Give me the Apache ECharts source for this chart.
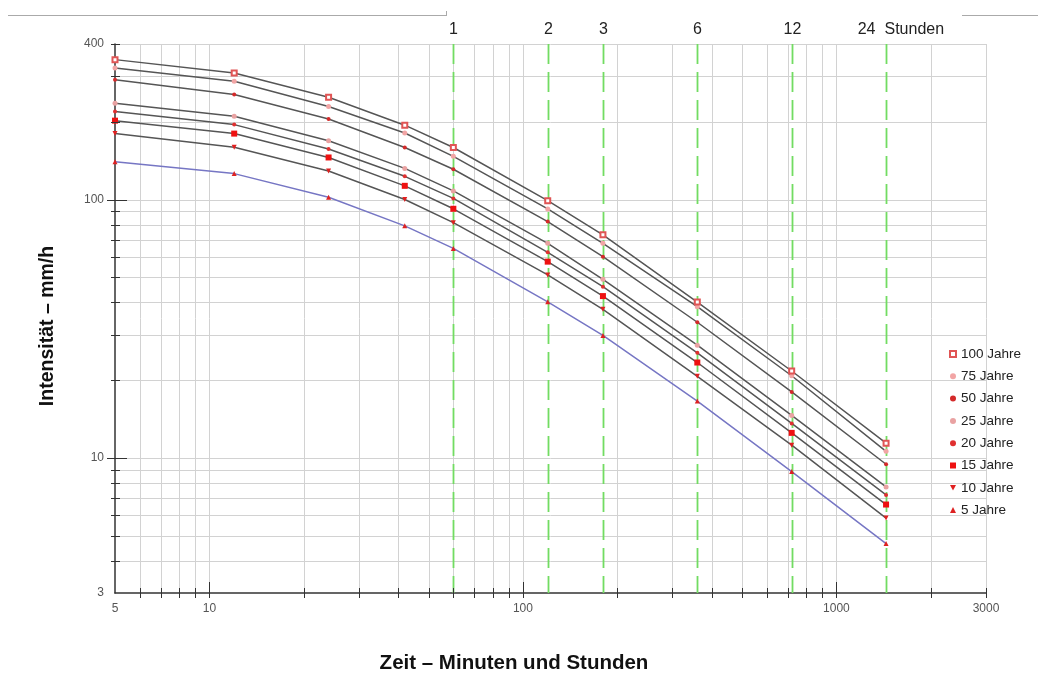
<!DOCTYPE html>
<html>
<head>
<meta charset="utf-8">
<script src="https://cdn.jsdelivr.net/npm/echarts@6/dist/echarts.min.js"></script>
<style>
html,body{margin:0;padding:0;background:#fff;}
#chart{width:1038px;height:680px;}
</style>
</head>
<body>
<div id="chart"></div>
<script>
// ---------- data ----------
const durations = [5, 12, 24, 42, 60, 120, 180, 360, 720, 1440]; // minutes
const seriesNames = ['100 Jahre', '75 Jahre', '50 Jahre', '25 Jahre', '20 Jahre', '15 Jahre', '10 Jahre', '5 Jahre'];
const j100 = [348, 309, 249, 194, 159, 99, 73, 40.1, 21.7, 11.4];
const j75  = [323, 287, 229, 181, 147, 92, 67.7, 38.5, 20.8, 10.6];
const j50  = [291, 255, 205, 159, 131, 82.2, 60.1, 33.5, 18.0, 9.45];
const j25  = [236, 210, 169, 132, 108, 67.7, 49.1, 27.3, 14.6, 7.72];
const j20  = [219, 195, 157, 123, 101, 62.5, 46.0, 25.5, 13.6, 7.19];
const j15  = [202, 180, 145.5, 113, 92.1, 57.5, 42.3, 23.4, 12.5, 6.6];
const j10  = [180, 159.5, 129, 100, 81.4, 51.1, 37.6, 20.7, 11.2, 5.85];
const j5   = [140, 126, 102, 79.1, 64.7, 40.2, 29.8, 16.6, 8.85, 4.66];
const seriesValues = [j100, j75, j50, j25, j20, j15, j10, j5];

const X_MIN = 5, X_MAX = 3000, Y_MIN = 3, Y_MAX = 400;
const xTickLabels = [5, 10, 100, 1000, 3000];
const yTickLabels = [3, 10, 100, 400];
const xGridValues = [6, 7, 8, 9, 10, 20, 30, 40, 50, 60, 70, 80, 90, 100, 200, 300, 400, 500, 600, 700, 800, 900, 1000, 2000, 3000];
const yGridValues = [4, 5, 6, 7, 8, 9, 10, 20, 30, 40, 50, 60, 70, 80, 90, 100, 200, 300, 400];
const xMinorTicks = [6, 7, 8, 9, 20, 30, 40, 50, 60, 70, 80, 90, 200, 300, 400, 500, 600, 700, 800, 900, 2000, 3000];
const xMajorTicks = [10, 100, 1000];
const yMinorTicks = [4, 5, 6, 7, 8, 9, 20, 30, 40, 50, 60, 70, 80, 90, 200, 300, 400];
const yMajorTicks = [10, 100];
const hourMinutes = [60, 120, 180, 360, 720, 1440];
const hourLabels = ['1', '2', '3', '6', '12', '24'];
const hourUnit = 'Stunden';
const xTitle = 'Zeit – Minuten und Stunden';
const yTitle = 'Intensität – mm/h';

// ---------- styles ----------
const FONT = '"Liberation Sans", Arial, Helvetica, sans-serif';
const markerStyles = [
  {symbol: 'emptyRect', size: 5, color: '#e05555', icon: 'emptyRect'},
  {symbol: 'circle', size: 5, color: '#f2a5a5', icon: 'circle'},
  {symbol: 'circle', size: 4, color: '#d42a2a', icon: 'circle'},
  {symbol: 'circle', size: 5, color: '#e9a2a2', icon: 'circle'},
  {symbol: 'circle', size: 4, color: '#e03030', icon: 'circle'},
  {symbol: 'rect', size: 6, color: '#ee1111', icon: 'rect'},
  {symbol: 'path://M0,0 L10,0 L5,9 Z', size: 5, color: '#e02020', icon: 'path://M0,0 L10,0 L5,9 Z'},
  {symbol: 'triangle', size: 5, color: '#dd2222', icon: 'triangle'}
];
const lineColors = ['#555', '#555', '#555', '#555', '#555', '#555', '#555', '#7676c4'];

function crisp(v) { return Math.round(v) + 0.5; }

const chart = echarts.init(document.getElementById('chart'), null, {renderer: 'canvas'});

const series = [];

// vertical grid lines
series.push({
  type: 'custom', silent: true, z: 1, clip: false,
  data: xGridValues.map(v => [v, Y_MIN]),
  encode: {x: 0, y: 1},
  renderItem: function (params, api) {
    const cs = params.coordSys;
    const x = crisp(api.coord([api.value(0), Y_MIN])[0]);
    return {type: 'line', shape: {x1: x, y1: cs.y, x2: x, y2: cs.y + cs.height},
      style: {stroke: '#d2d2d2', lineWidth: 1}};
  }
});
// horizontal grid lines
series.push({
  type: 'custom', silent: true, z: 1, clip: false,
  data: yGridValues.map(v => [X_MIN, v]),
  encode: {x: 0, y: 1},
  renderItem: function (params, api) {
    const cs = params.coordSys;
    const y = crisp(api.coord([X_MIN, api.value(1)])[1]);
    return {type: 'line', shape: {x1: cs.x, y1: y, x2: cs.x + cs.width, y2: y},
      style: {stroke: '#d2d2d2', lineWidth: 1}};
  }
});
// x ticks
series.push({
  type: 'custom', silent: true, z: 5, clip: false,
  data: xMinorTicks.map(v => [v, Y_MIN, 0]).concat(xMajorTicks.map(v => [v, Y_MIN, 1])),
  encode: {x: 0, y: 1},
  renderItem: function (params, api) {
    const cs = params.coordSys;
    const x = crisp(api.coord([api.value(0), Y_MIN])[0]);
    const yb = cs.y + cs.height;
    const major = api.value(2) === 1;
    return {type: 'line', shape: {x1: x, y1: yb - (major ? 11 : 5), x2: x, y2: yb + 5},
      style: {stroke: '#333', lineWidth: 1}};
  }
});
// y ticks
series.push({
  type: 'custom', silent: true, z: 5, clip: false,
  data: yMinorTicks.map(v => [X_MIN, v, 0]).concat(yMajorTicks.map(v => [X_MIN, v, 1])),
  encode: {x: 0, y: 1},
  renderItem: function (params, api) {
    const cs = params.coordSys;
    const y = crisp(api.coord([X_MIN, api.value(1)])[1]);
    const major = api.value(2) === 1;
    return {type: 'line', shape: {x1: cs.x - (major ? 8 : 4), y1: y, x2: cs.x + (major ? 12 : 5), y2: y},
      style: {stroke: '#333', lineWidth: 1}};
  }
});
// green hour lines with labels
series.push({
  type: 'custom', silent: true, z: 2, clip: false,
  data: hourMinutes.map((v, i) => [v, Y_MIN, i]),
  encode: {x: 0, y: 1},
  renderItem: function (params, api) {
    const cs = params.coordSys;
    const idx = api.value(2);
    const x = crisp(api.coord([api.value(0), Y_MIN])[0]);
    const children = [
      {type: 'line', shape: {x1: x, y1: cs.y, x2: x, y2: cs.y + cs.height},
        style: {stroke: '#72dc62', lineWidth: 1.8, lineDash: [20, 8]}}
    ];
    const last = idx === hourLabels.length - 1;
    children.push({type: 'text', x: last ? x - 11 : x, y: cs.y - 6,
      style: {text: hourLabels[idx], fill: '#222', font: '16px ' + FONT,
        align: last ? 'right' : 'center', verticalAlign: 'bottom',
        textAlign: last ? 'right' : 'center', textVerticalAlign: 'bottom'}});
    if (last) {
      children.push({type: 'text', x: x - 2, y: cs.y - 6,
        style: {text: hourUnit, fill: '#222', font: '16px ' + FONT,
          align: 'left', verticalAlign: 'bottom', textAlign: 'left', textVerticalAlign: 'bottom'}});
    }
    return {type: 'group', children: children};
  }
});

// data series
seriesNames.forEach((name, i) => {
  const ms = markerStyles[i];
  series.push({
    type: 'line', name: name, z: 4 + (7 - i) * 0.01,
    data: durations.map((d, k) => [d, seriesValues[i][k]]),
    symbol: ms.symbol, symbolSize: ms.size, showSymbol: true,
    itemStyle: {color: ms.color, borderWidth: ms.symbol === 'emptyRect' ? 1.2 : 0},
    lineStyle: {color: lineColors[i], width: 1.5},
    emphasis: {disabled: true},
    animation: false
  });
});

const option = {
  animation: false,
  backgroundColor: '#fff',
  grid: {left: 115, right: 52, top: 44, bottom: 87, containLabel: false},
  xAxis: {
    type: 'log', logBase: 10, min: X_MIN, max: X_MAX,
    axisLine: {show: true, onZero: false, lineStyle: {color: '#333', width: 1.5}},
    axisTick: {show: false},
    splitLine: {show: false},
    minorTick: {show: false},
    axisLabel: {
      margin: 10, color: '#555', fontSize: 12, fontFamily: '"Liberation Sans Narrow", ' + FONT,
      showMinLabel: true, showMaxLabel: true,
      formatter: function (v) {
        const r = Math.round(v);
        return xTickLabels.indexOf(r) >= 0 ? String(r) : '';
      }
    }
  },
  yAxis: {
    type: 'log', logBase: 10, min: Y_MIN, max: Y_MAX,
    axisLine: {show: true, onZero: false, lineStyle: {color: '#333', width: 1.5}},
    axisTick: {show: false},
    splitLine: {show: false},
    minorTick: {show: false},
    axisLabel: {
      margin: 11, color: '#555', fontSize: 12, fontFamily: '"Liberation Sans Narrow", ' + FONT,
      showMinLabel: true, showMaxLabel: true,
      formatter: function (v) {
        const r = Math.round(v);
        return yTickLabels.indexOf(r) >= 0 ? String(r) : '';
      }
    }
  },
  legend: {
    orient: 'vertical', left: 944, top: 342,
    itemWidth: 6, itemHeight: 6, itemGap: 8.3,
    textStyle: {fontSize: 13.5, color: '#222', fontFamily: FONT},
    data: seriesNames.map((n, i) => ({name: n, icon: markerStyles[i].icon})),
    selectedMode: false
  },
  graphic: [
    {type: 'text', x: 514, y: 663, silent: true,
      style: {text: xTitle, font: 'bold 20.5px ' + FONT, fill: '#111', align: 'center', verticalAlign: 'middle'}},
    {type: 'text', x: 48, y: 326, rotation: Math.PI / 2, silent: true,
      style: {text: yTitle, font: 'bold 19.5px ' + FONT, fill: '#111', align: 'center', verticalAlign: 'middle'}},
    {type: 'line', silent: true, shape: {x1: 8, y1: 15.5, x2: 447, y2: 15.5}, style: {stroke: '#aaa', lineWidth: 1}},
    {type: 'line', silent: true, shape: {x1: 446.5, y1: 11, x2: 446.5, y2: 15.5}, style: {stroke: '#aaa', lineWidth: 1}},
    {type: 'line', silent: true, shape: {x1: 962, y1: 15.5, x2: 1038, y2: 15.5}, style: {stroke: '#aaa', lineWidth: 1}}
  ],
  series: series
};

chart.setOption(option);
</script>
</body>
</html>
